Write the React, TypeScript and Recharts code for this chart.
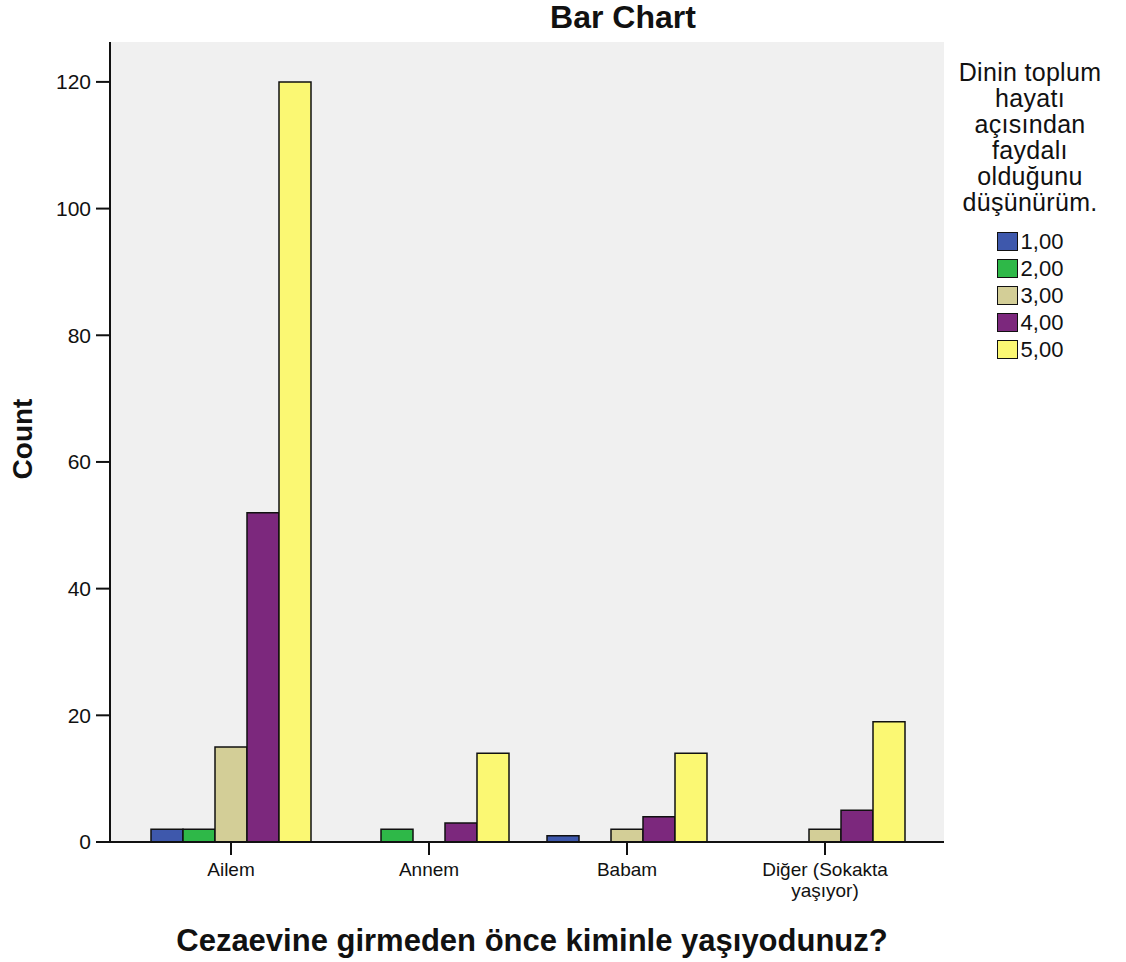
import React from "react";
import {
  BarChart,
  Bar,
  XAxis,
  YAxis,
  CartesianGrid,
  Legend,
} from "recharts";

const categories = ["Ailem", "Annem", "Babam", "Diğer (Sokakta yaşıyor)"];
const seriesNames = ["1,00", "2,00", "3,00", "4,00", "5,00"];
const seriesColors = ["#3E58AC", "#2EB848", "#D3CE97", "#7C287D", "#FBF873"];
const s1 = [2, 0, 1, 0];
const s2 = [2, 2, 0, 0];
const s3 = [15, 0, 2, 2];
const s4 = [52, 3, 4, 5];
const s5 = [120, 14, 14, 19];
const seriesValues = [s1, s2, s3, s4, s5];
const yTicks = [0, 20, 40, 60, 80, 100, 120];
const legendTitleLines = ["Dinin toplum", "hayatı", "açısından", "faydalı", "olduğunu", "düşünürüm."];
const chartTitle = "Bar Chart";
const xTitle = "Cezaevine girmeden önce kiminle yaşıyodunuz?";
const yTitle = "Count";

const data = categories.map((c, i) => {
  const row: any = { category: c };
  seriesNames.forEach((n, j) => {
    row["s" + j] = seriesValues[j][i];
  });
  return row;
});

const FONT = "'Liberation Sans', Arial, sans-serif";

function wrap(text: string, maxChars: number): string[] {
  const words = text.split(" ");
  const lines: string[] = [];
  let cur = "";
  words.forEach((w) => {
    const next = cur ? cur + " " + w : w;
    if (next.length > maxChars && cur) {
      lines.push(cur);
      cur = w;
    } else {
      cur = next;
    }
  });
  if (cur) lines.push(cur);
  return lines;
}

const XTick = (props: any) => {
  const { x, y, payload } = props;
  const lines = wrap(String(payload.value), 14);
  return (
    <text x={x} y={y} textAnchor="middle" fontSize={19} fill="#111" fontFamily={FONT}>
      {lines.map((l, i) => (
        <tspan key={i} x={x} dy={i === 0 ? "0.71em" : 21}>
          {l}
        </tspan>
      ))}
    </text>
  );
};

const LegendContent = (props: any) => {
  const payload = (props.payload || []).filter((p: any) => seriesNames.includes(p.value));
  return (
    <div style={{ fontFamily: FONT, color: "#111", textAlign: "center" }}>
      {legendTitleLines.map((l, i) => (
        <div key={i} style={{ fontSize: 25, lineHeight: "26px", height: 26, whiteSpace: "nowrap", letterSpacing: 0.3 }}>
          {l}
        </div>
      ))}
      <div style={{ display: "inline-block", textAlign: "left", marginTop: 13 }}>
        {payload.map((p: any, i: number) => (
          <div key={i} style={{ display: "flex", alignItems: "center", height: 27 }}>
            <span
              style={{
                display: "inline-block",
                width: 19,
                height: 17,
                background: p.color,
                border: "1.5px solid #111",
                marginRight: 3,
              }}
            />
            <span style={{ fontSize: 22, lineHeight: "27px" }}>{p.value}</span>
          </div>
        ))}
      </div>
    </div>
  );
};

export default function App() {
  return (
    <div style={{ position: "absolute", left: 0, top: 0, width: 1126, height: 962, background: "#fff" }}>
      <div
        style={{
          position: "absolute",
          left: 623,
          top: 1,
          transform: "translateX(-50%)",
          fontFamily: FONT,
          fontWeight: "bold",
          fontSize: 32,
          lineHeight: "32px",
          whiteSpace: "nowrap",
          color: "#111",
        }}
      >
        {chartTitle}
      </div>
      <BarChart
        width={1126}
        height={962}
        data={data}
        margin={{ top: 42, right: 182, bottom: 0, left: 0 }}
        barCategoryGap={19}
        barGap={0}
      >
        <CartesianGrid fill="#F0F0F0" horizontal={false} vertical={false} />
        <XAxis
          dataKey="category"
          height={120}
          padding={{ left: 22, right: 20 }}
          tickSize={13}
          tickMargin={8}
          tick={<XTick />}
          tickLine={{ stroke: "#111", strokeWidth: 2 }}
          axisLine={{ stroke: "#111", strokeWidth: 2 }}
          interval={0}
          label={{
            value: xTitle,
            content: (p: any) => {
              const vb = p.viewBox;
              return (
                <text
                  x={vb.x + vb.width / 2 + 5}
                  y={vb.y + vb.height - 22}
                  textAnchor="middle"
                  dominantBaseline="central"
                  fontSize={31}
                  fontWeight="bold"
                  fontFamily={FONT}
                  fill="#111"
                >
                  {xTitle}
                </text>
              );
            },
          }}
        />
        <XAxis
          xAxisId="top"
          orientation="top"
          dataKey="category"
          height={0}
          tick={false}
          tickLine={false}
          axisLine={{ stroke: "#666", strokeWidth: 2.5 }}
        />
        <YAxis
          width={110}
          domain={[0, 126.3]}
          ticks={yTicks}
          interval={0}
          tickSize={14}
          tickMargin={5}
          tick={{ fontSize: 21, fill: "#111", fontFamily: FONT }}
          tickLine={{ stroke: "#111", strokeWidth: 2 }}
          axisLine={{ stroke: "#111", strokeWidth: 2 }}
          label={{
            value: yTitle,
            content: (p: any) => {
              const vb = p.viewBox;
              const cx = vb.x + 22;
              const cy = vb.y + vb.height / 2 - 3;
              return (
                <text
                  x={cx}
                  y={cy}
                  transform={`rotate(-90, ${cx}, ${cy})`}
                  textAnchor="middle"
                  dominantBaseline="central"
                  fontSize={28}
                  fontWeight="bold"
                  fontFamily={FONT}
                  fill="#111"
                >
                  {yTitle}
                </text>
              );
            },
          }}
        />
        <YAxis
          yAxisId="right"
          orientation="right"
          width={0}
          tick={false}
          tickLine={false}
          domain={[0, 126.3]}
          axisLine={{ stroke: "#666", strokeWidth: 2 }}
        />
        <Legend
          layout="vertical"
          align="center"
          verticalAlign="middle"
          content={<LegendContent />}
          wrapperStyle={{ position: "absolute", left: 937, top: 59, width: 186 }}
        />
        {seriesNames.map((n, j) => (
          <Bar
            key={n}
            dataKey={"s" + j}
            name={n}
            fill={seriesColors[j]}
            stroke="#111"
            strokeWidth={1.5}
            isAnimationActive={false}
          />
        ))}
      </BarChart>
    </div>
  );
}
